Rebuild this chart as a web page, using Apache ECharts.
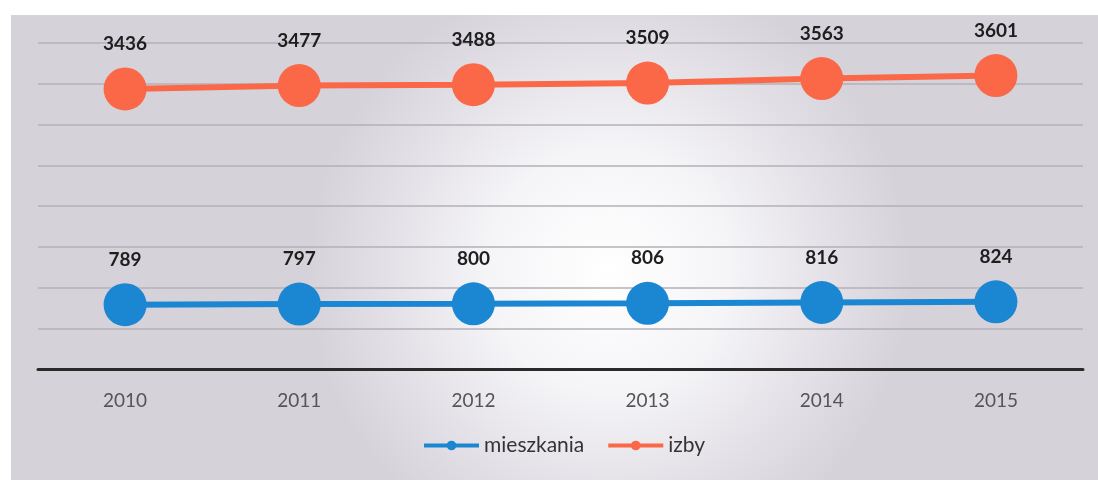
<!DOCTYPE html>
<html lang="pl">
<head>
    <meta charset="UTF-8">
    <title>mieszkania i izby</title>
    <script src="https://cdn.jsdelivr.net/npm/echarts@6/dist/echarts.min.js"></script>
    <style>
        html, body { margin: 0; padding: 0; background: #fff; }
    </style>
</head>
<body>
    <div id="main" style="width: 1098px;height:480px;"></div>
    <script type="text/javascript">
    let years = ['2010', '2011', '2012', '2013', '2014', '2015'];
    let mieszkania = [789, 797, 800, 806, 816, 824];
    let izby = [3436, 3477, 3488, 3509, 3563, 3601];

    let blue = '#1b86d2';
    let orange = '#fb6847';

    let myChart = echarts.init(document.getElementById('main'));

    // etykiety nad punktami
    let label = {
        show: true,
        position: 'top',
        distance: 14,
        color: '#1e1e1e',
        fontFamily: 'Lato',
        fontWeight: 'bold',
        fontSize: 19
    };

    let option = {
        backgroundColor: '#ffffff',
        textStyle: { fontFamily: 'Lato' },
        graphic: [{
            type: 'rect',
            z: -10,
            silent: true,
            shape: { x: 11, y: 15, width: 1087, height: 465 },
            style: {
                fill: {
                    type: 'radial',
                    x: 0.55, y: 0.55, r: 0.65,
                    colorStops: [
                        { offset: 0, color: '#ffffff' },
                        { offset: 0.4, color: '#f5f4f7' },
                        { offset: 1, color: '#d5d2da' }
                    ]
                }
            }
        }],
        grid: {
            left: 38,
            right: 15,
            top: 43,
            bottom: 111
        },
        legend: {
            bottom: 19,
            left: 417,
            itemWidth: 55,
            itemHeight: 12,
            itemGap: 22,
            lineStyle: { width: 4 },
            textStyle: { color: '#333', fontSize: 21, fontFamily: 'Lato' },
            data: ['mieszkania', 'izby']
        },
        xAxis: {
            type: 'category',
            data: years,
            axisLine: { lineStyle: { color: '#2a2a2a', width: 3 } },
            axisTick: { show: false },
            axisLabel: { color: '#555', fontSize: 19, margin: 22, fontFamily: 'Lato' }
        },
        yAxis: {
            type: 'value',
            min: 0,
            max: 4000,
            interval: 500,
            axisLabel: { show: false },
            axisLine: { show: false },
            axisTick: { show: false },
            splitLine: { lineStyle: { color: '#b3b0b7', width: 1.5 } }
        },
        series: [{
            name: 'mieszkania',
            type: 'line',
            data: mieszkania,
            symbol: 'circle',
            symbolSize: 43,
            color: blue,
            lineStyle: { width: 6, color: blue },
            itemStyle: { color: blue },
            label: label
        }, {
            name: 'izby',
            type: 'line',
            data: izby,
            symbol: 'circle',
            symbolSize: 43,
            color: orange,
            lineStyle: { width: 6, color: orange },
            itemStyle: { color: orange },
            label: label
        }]
    };

    myChart.setOption(option);
    </script>
</body>
</html>
